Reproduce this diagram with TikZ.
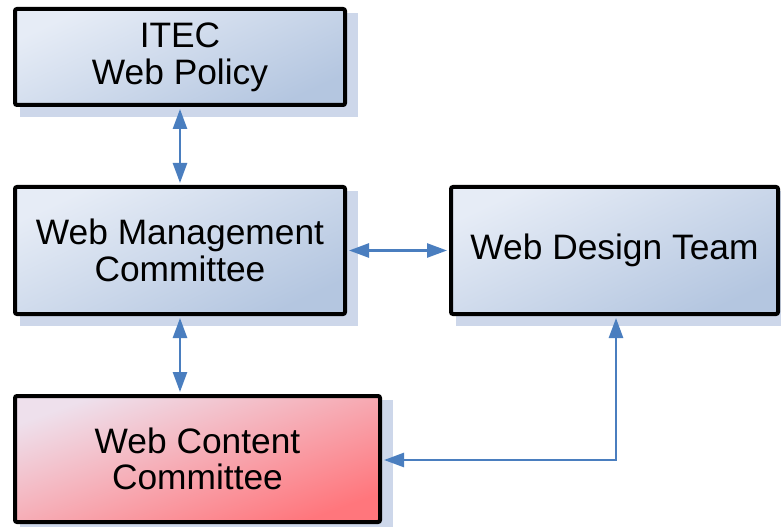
\documentclass[tikz,border=0pt]{standalone}
\usepackage{fontspec}
\setmainfont{Liberation Sans}
\usetikzlibrary{arrows.meta,backgrounds}
\definecolor{boxlight}{RGB}{230,236,246}
\definecolor{boxmid}{RGB}{198,212,233}
\definecolor{boxdark}{RGB}{180,198,224}
\definecolor{redlight}{RGB}{238,224,236}
\definecolor{redmid}{RGB}{250,158,168}
\definecolor{reddark}{RGB}{255,118,124}
\definecolor{shadowcol}{RGB}{205,215,234}
\definecolor{arrowcol}{RGB}{74,126,191}
\tikzset{
  orgbox/.style={draw=black, line width=3pt, rounded corners=1.5pt, align=center,
    font=\fontsize{26.5}{27.5}\selectfont, inner sep=0pt},
  bluebox/.style={orgbox, top color=boxlight, middle color=boxmid, bottom color=boxdark, shading angle=25},
  redbox/.style={orgbox, top color=redlight, middle color=redmid, bottom color=reddark, shading angle=20},
  link/.style={draw=arrowcol, line width=2pt,
    {Triangle[length=15pt,width=10.5pt]}-{Triangle[length=15pt,width=10.5pt]}},
}
\begin{document}
\begin{tikzpicture}[x=0.75pt,y=-0.75pt]
\useasboundingbox (0,0) rectangle (781,527);
\node[bluebox, minimum width=330*0.75pt, minimum height=96*0.75pt] (itec) at (180,57) {ITEC\\Web Policy};
\node[bluebox, minimum width=330*0.75pt, minimum height=127*0.75pt] (wmc) at (180,250.5) {Web Management\\Committee};
\node[bluebox, minimum width=327*0.75pt, minimum height=127*0.75pt] (wdt) at (614.5,250.5) {Web Design Team};
\node[redbox, minimum width=365*0.75pt, minimum height=126*0.75pt] (wcc) at (197.5,459) {Web Content\\Committee};
\begin{scope}[on background layer]
  \foreach \n in {itec,wmc,wdt,wcc}{
    \fill[shadowcol] ([shift={(7,6)}]\n.north west) rectangle ([shift={(11,10)}]\n.south east);
  }
\end{scope}
\coordinate (corner) at (616,460);
\draw[link] ([yshift=-1.5pt]itec.south) -- ([yshift=1.5pt]wmc.north);
\draw[link] ([xshift=1.5pt]wmc.east) -- ([xshift=-1.5pt]wdt.west);
\draw[link] ([yshift=-1.5pt]wmc.south) -- ([yshift=1.5pt]wmc.south |- wcc.north);
\draw[link] ([xshift=1.5pt]wcc.east |- corner) -- (corner) -- ([yshift=-1.5pt]wdt.south -| corner);
\end{tikzpicture}
\end{document}
